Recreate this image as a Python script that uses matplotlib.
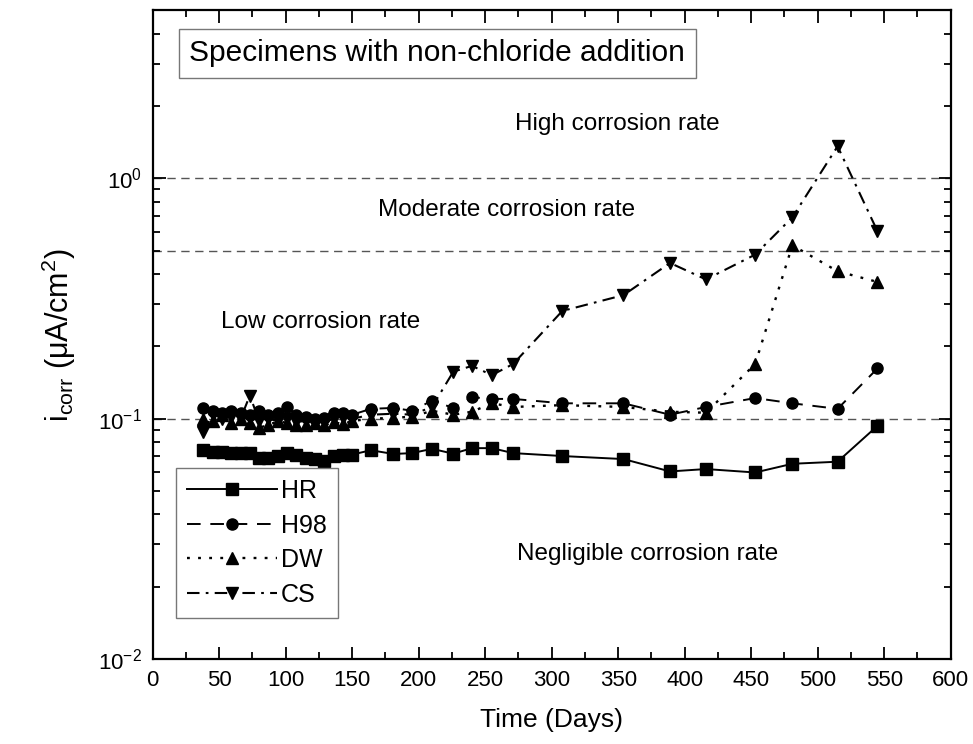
import matplotlib
matplotlib.use("Agg")
import matplotlib.pyplot as plt
from matplotlib.ticker import MultipleLocator, LogLocator, NullFormatter

plt.rcParams['font.family'] = ['Liberation Sans', 'DejaVu Sans']
plt.rcParams['mathtext.fontset'] = 'custom'
plt.rcParams['mathtext.rm'] = 'Liberation Sans'

# measurement days (same for all specimens)
days = [38, 45, 52, 59, 66, 73, 80, 87, 94, 101, 108, 115, 122, 129, 136, 143, 150, 164,
        181, 195, 210, 226, 240, 255, 271, 308, 354, 389, 416, 453, 481, 515, 545]

hr = [0.074, 0.073, 0.073, 0.072, 0.072, 0.072, 0.069, 0.069, 0.070, 0.072, 0.071, 0.069,
      0.068, 0.067, 0.070, 0.071, 0.071, 0.074,
      0.0714, 0.072, 0.075, 0.0716, 0.0755, 0.0755, 0.072, 0.070, 0.068, 0.0604, 0.0618,
      0.0598, 0.065, 0.0663, 0.0935]

h98 = [0.111, 0.108, 0.106, 0.108, 0.106, 0.104, 0.108, 0.104, 0.106, 0.112, 0.104, 0.102,
       0.100, 0.101, 0.106, 0.106, 0.104, 0.110,
       0.111, 0.108, 0.119, 0.111, 0.123, 0.121, 0.121, 0.116, 0.116, 0.104, 0.112,
       0.122, 0.116, 0.110, 0.162]

dw = [0.100, 0.098, 0.104, 0.096, 0.100, 0.096, 0.092, 0.094, 0.098, 0.096, 0.094, 0.094,
      0.096, 0.094, 0.097, 0.095, 0.098, 0.100,
      0.101, 0.102, 0.108, 0.104, 0.107, 0.116, 0.112, 0.114, 0.112, 0.107, 0.106,
      0.169, 0.527, 0.411, 0.371]

cs = [0.088, 0.104, 0.100, 0.102, 0.100, 0.125, 0.098, 0.100, 0.098, 0.100, 0.097, 0.098,
      0.096, 0.097, 0.100, 0.101, 0.100, 0.104,
      0.105, 0.104, 0.112, 0.157, 0.166, 0.152, 0.169, 0.281, 0.327, 0.445, 0.380,
      0.482, 0.689, 1.36, 0.603]

thresholds = [1.0, 0.5, 0.1]
zone_labels = ["High corrosion rate", "Moderate corrosion rate",
               "Low corrosion rate", "Negligible corrosion rate"]
zone_pos = [(349, 1.69), (266, 0.736), (126, 0.253), (372, 0.0273)]

fig = plt.figure(figsize=(9.73, 7.44), dpi=100)
ax = fig.add_axes([0.157, 0.114, 0.820, 0.872])

for t in thresholds:
    ax.axhline(t, color='#555555', lw=1.0, dashes=(6, 4), zorder=1)

ax.plot(days, hr, color='black', lw=1.4, marker='s', ms=8, label='HR')
ax.plot(days, h98, color='black', lw=1.4, marker='o', ms=8, dashes=(7, 5), label='H98')
ax.plot(days, dw, color='black', lw=1.7, marker='^', ms=9, dashes=(1.2, 3.5), label='DW')
ax.plot(days, cs, color='black', lw=1.5, marker='v', ms=9, dashes=(6, 3, 1.3, 3), label='CS')

ax.set_yscale('log')
ax.set_xlim(0, 600)
ax.set_ylim(0.01, 5)
ax.xaxis.set_major_locator(MultipleLocator(50))
ax.xaxis.set_minor_locator(MultipleLocator(25))
ax.yaxis.set_major_locator(LogLocator(base=10, numticks=10))
ax.yaxis.set_minor_locator(LogLocator(base=10, subs=range(2, 10), numticks=20))
ax.yaxis.set_minor_formatter(NullFormatter())

ax.tick_params(which='both', direction='in', top=True, right=True, width=1.3)
ax.tick_params(which='major', length=9, labelsize=16, pad=8)
ax.tick_params(which='minor', length=5)
for sp in ax.spines.values():
    sp.set_linewidth(1.6)

ax.set_xlabel('Time (Days)', fontsize=19, labelpad=12)
ax.set_ylabel(r'i$_{\mathregular{corr}}$ (μA/cm$^{\mathregular{2}}$)', fontsize=22, labelpad=14)

for lab, (x, y) in zip(zone_labels, zone_pos):
    ax.text(x, y, lab, fontsize=17.5, ha='center', va='center')

ax.text(0.046, 0.934, 'Specimens with non-chloride addition', transform=ax.transAxes,
        fontsize=21.5, ha='left', va='center',
        bbox=dict(boxstyle='square,pad=0.35', fc='white', ec='#777777', lw=1.0))

leg = ax.legend(loc='upper left', bbox_to_anchor=(0.029, 0.295), fontsize=18,
                handlelength=3.6, labelspacing=0.42, borderpad=0.45, handletextpad=0.15,
                borderaxespad=0.0, fancybox=False, framealpha=1, edgecolor='#777777')
leg.get_frame().set_linewidth(1.0)

fig.savefig('out.png', dpi=100)
